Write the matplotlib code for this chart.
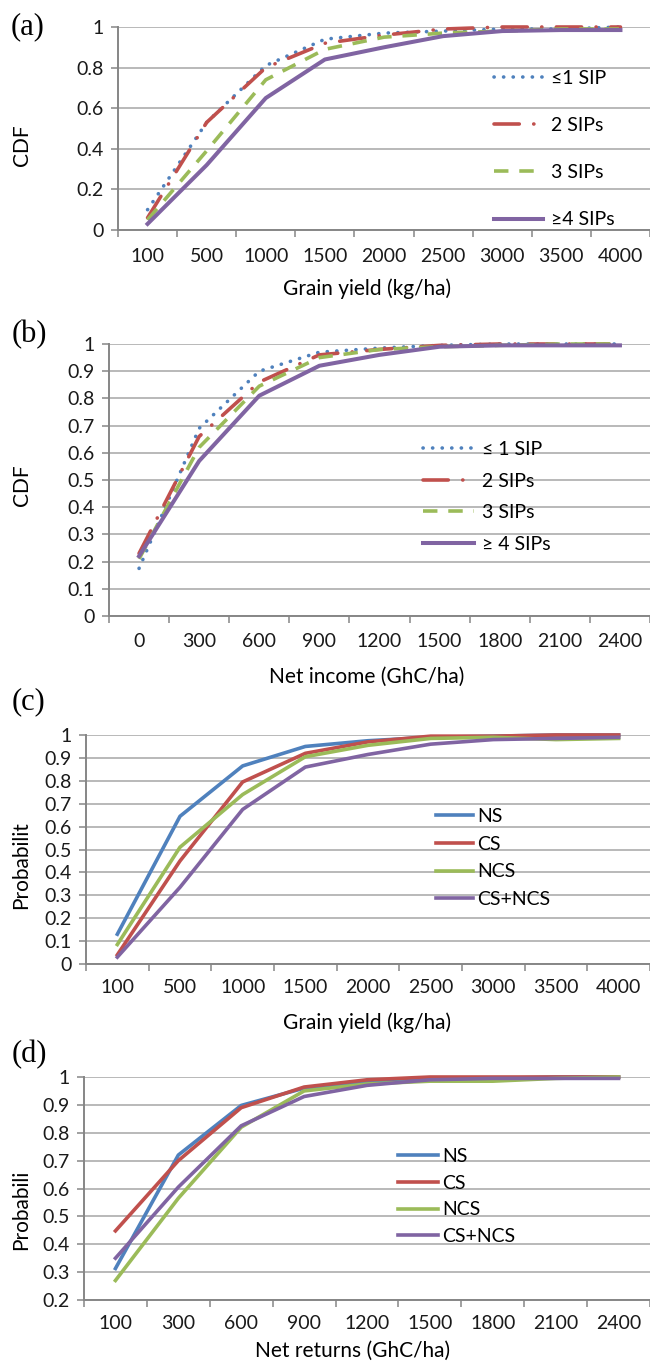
import numpy as np
import matplotlib.pyplot as plt

# category axes
yield_cats = ['100', '500', '1000', '1500', '2000', '2500', '3000', '3500', '4000']
income_cats = ['0', '300', '600', '900', '1200', '1500', '1800', '2100', '2400']
returns_cats = ['100', '300', '600', '900', '1200', '1500', '1800', '2100', '2400']

# (a) CDF of grain yield by number of SIPs
a_sip1 = [0.10, 0.53, 0.81, 0.94, 0.97, 0.98, 0.99, 0.99, 1.00]
a_sip2 = [0.06, 0.53, 0.80, 0.92, 0.96, 0.99, 1.00, 1.00, 1.00]
a_sip3 = [0.05, 0.39, 0.74, 0.89, 0.95, 0.97, 0.98, 0.99, 0.99]
a_sip4 = [0.03, 0.32, 0.65, 0.84, 0.90, 0.955, 0.98, 0.985, 0.985]

# (b) CDF of net income by number of SIPs
b_sip1 = [0.175, 0.69, 0.90, 0.97, 0.985, 0.995, 1.00, 1.00, 1.00]
b_sip2 = [0.23, 0.66, 0.86, 0.96, 0.98, 0.995, 1.00, 1.00, 1.00]
b_sip3 = [0.21, 0.62, 0.845, 0.95, 0.98, 0.99, 0.995, 1.00, 1.00]
b_sip4 = [0.22, 0.57, 0.81, 0.92, 0.96, 0.99, 0.995, 0.995, 0.995]

# (c) grain yield by strategy
c_ns = [0.13, 0.645, 0.865, 0.95, 0.975, 0.99, 0.995, 1.00, 1.00]
c_cs = [0.04, 0.45, 0.795, 0.92, 0.97, 0.995, 0.995, 1.00, 1.00]
c_ncs = [0.085, 0.51, 0.74, 0.905, 0.955, 0.985, 0.99, 0.98, 0.985]
c_csncs = [0.03, 0.335, 0.675, 0.86, 0.915, 0.96, 0.98, 0.985, 0.99]

# (d) net returns by strategy
d_ns = [0.313, 0.72, 0.898, 0.96, 0.985, 0.995, 0.995, 1.00, 1.00]
d_cs = [0.448, 0.70, 0.89, 0.964, 0.99, 1.00, 1.00, 1.00, 1.00]
d_ncs = [0.27, 0.565, 0.82, 0.95, 0.975, 0.985, 0.985, 0.995, 1.00]
d_csncs = [0.35, 0.605, 0.825, 0.93, 0.97, 0.99, 0.995, 0.995, 0.995]

sip_labels_a = ['\u22641 SIP', '2 SIPs', '3 SIPs', '\u22654 SIPs']
sip_labels_b = ['\u2264 1 SIP', '2 SIPs', '3 SIPs', '\u2265 4 SIPs']
strat_labels = ['NS', 'CS', 'NCS', 'CS+NCS']

BLUE, RED, GREEN, PURPLE = '#4F81BD', '#C0504D', '#9BBB59', '#8064A2'
GRID, AXIS = '#A6A6A6', '#868686'
FONT = ['Lato', 'DejaVu Sans']
FS = 14

plt.rcParams['font.family'] = FONT
plt.rcParams['font.size'] = FS

W, H = 650, 1361
fig = plt.figure(figsize=(W / 100, H / 100), dpi=100)


def add_ax(left, top, bottom, right=W):
    return fig.add_axes([left / W, 1 - bottom / H, (right - left) / W, (bottom - top) / H])


def style(ax, cats, yticks, xpad):
    n = len(cats)
    ax.set_xlim(-0.5, n - 0.5)
    ax.set_ylim(yticks[0], yticks[-1])
    ax.set_xticks(range(n))
    ax.set_xticklabels(cats)
    ax.set_xticks(np.arange(n + 1) - 0.5, minor=True)
    ax.tick_params(axis='x', which='major', length=0, pad=xpad, labelsize=FS, colors='#1a1a1a')
    ax.tick_params(axis='x', which='minor', length=5, width=1.1, color=AXIS)
    ax.set_yticks(yticks)
    ax.set_yticklabels(['%g' % round(t, 2) for t in yticks])
    ax.tick_params(axis='y', length=5, width=1.1, color=AXIS, pad=5, labelsize=FS,
                   labelcolor='#1a1a1a')
    ax.yaxis.grid(True, color=GRID, lw=1.1)
    ax.set_axisbelow(True)
    for s in ['top', 'right']:
        ax.spines[s].set_visible(False)
    for s in ['left', 'bottom']:
        ax.spines[s].set_color(AXIS)
        ax.spines[s].set_linewidth(1.4)


def px_text(x, y, s, **kw):
    fig.text(x / W, 1 - y / H, s, ha='center', va='center', **kw)


def legend(ax, x, y, hlen, spacing, tpad):
    ax.legend(loc='upper left', bbox_to_anchor=(x / W, 1 - y / H), bbox_transform=fig.transFigure,
              frameon=False, borderpad=0, borderaxespad=0, handlelength=hlen,
              handletextpad=tpad, labelspacing=spacing, fontsize=FS)


dot = dict(ls=(0, (0.05, 2.6)), dash_capstyle='round')
dashdot = dict(ls=(0, (7, 4, 0.05, 4)), dash_capstyle='round')
dash = dict(ls=(0, (4, 3)), dash_capstyle='butt')
LW = 2.6

# ---- (a)
ax = add_ax(118, 27, 230)
x = np.arange(len(yield_cats))
ax.plot(x, a_sip1, color=BLUE, lw=LW, label=sip_labels_a[0], clip_on=False, **dot)
ax.plot(x, a_sip2, color=RED, lw=LW, label=sip_labels_a[1], clip_on=False, **dashdot)
ax.plot(x, a_sip3, color=GREEN, lw=LW, label=sip_labels_a[2], clip_on=False, **dash)
ax.plot(x, a_sip4, color=PURPLE, lw=LW + 0.3, label=sip_labels_a[3], clip_on=False)
style(ax, yield_cats, np.round(np.arange(0, 1.01, 0.2), 1), 13)
legend(ax, 494, 70, 2.5, 1.55, 0.45)
px_text(367, 289, 'Grain yield (kg/ha)', fontsize=FS + 1)
px_text(22, 145, 'CDF', rotation=90, fontsize=FS + 1)
px_text(28, 27, '(a)', family='Liberation Serif', fontsize=22)

# ---- (b)
ax = add_ax(109, 344, 616)
x = np.arange(len(income_cats))
ax.plot(x, b_sip1, color=BLUE, lw=LW, label=sip_labels_b[0], clip_on=False, **dot)
ax.plot(x, b_sip2, color=RED, lw=LW, label=sip_labels_b[1], clip_on=False, **dashdot)
ax.plot(x, b_sip3, color=GREEN, lw=LW, label=sip_labels_b[2], clip_on=False, **dash)
ax.plot(x, b_sip4, color=PURPLE, lw=LW + 0.3, label=sip_labels_b[3], clip_on=False)
style(ax, income_cats, np.round(np.arange(0, 1.01, 0.1), 1), 12)
legend(ax, 423, 441, 2.6, 0.75, 0.45)
px_text(367, 677, 'Net income (GhC/ha)', fontsize=FS + 1)
px_text(22, 485, 'CDF', rotation=90, fontsize=FS + 1)
px_text(29, 335, '(b)', family='Liberation Serif', fontsize=22)

# ---- (c)
ax = add_ax(86, 735, 964)
x = np.arange(len(yield_cats))
for vals, col, lab in zip([c_ns, c_cs, c_ncs, c_csncs], [BLUE, RED, GREEN, PURPLE], strat_labels):
    ax.plot(x, vals, color=col, lw=LW, label=lab, clip_on=False)
style(ax, yield_cats, np.round(np.arange(0, 1.01, 0.1), 1), 11)
legend(ax, 436, 808, 1.9, 0.55, 0.2)
px_text(367, 1023, 'Grain yield (kg/ha)', fontsize=FS + 1)
px_text(21, 865, 'Probabilit', rotation=90, fontsize=FS + 1)
px_text(29, 702, '(c)', family='Liberation Serif', fontsize=22)

# ---- (d)
ax = add_ax(84, 1077, 1300)
x = np.arange(len(returns_cats))
for vals, col, lab in zip([d_ns, d_cs, d_ncs, d_csncs], [BLUE, RED, GREEN, PURPLE], strat_labels):
    ax.plot(x, vals, color=col, lw=LW, label=lab, clip_on=False)
style(ax, returns_cats, np.round(np.arange(0.2, 1.01, 0.1), 1), 11)
legend(ax, 398, 1148, 2.05, 0.5, 0.2)
px_text(353, 1351, 'Net returns (GhC/ha)', fontsize=FS + 1)
px_text(21, 1210, 'Probabili', rotation=90, fontsize=FS + 1)
px_text(29, 1055, '(d)', family='Liberation Serif', fontsize=22)

fig.savefig('out.png', dpi=100)
